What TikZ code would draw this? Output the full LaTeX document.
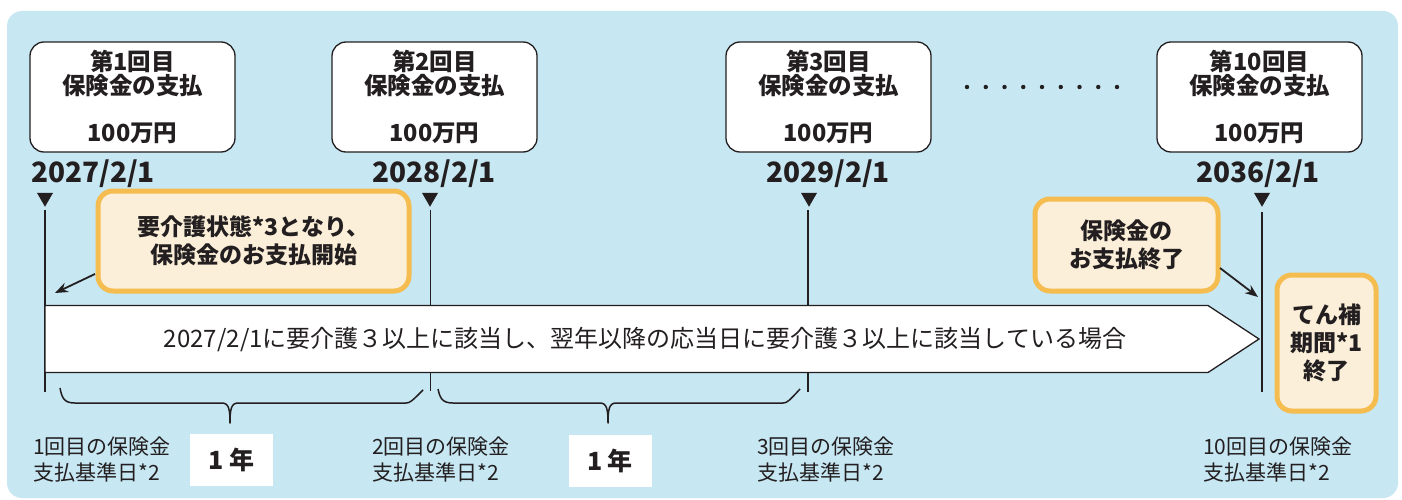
\documentclass[tikz,border=0pt]{standalone}
\usepackage{fontspec}
\setmainfont{Noto Sans CJK JP}
\usetikzlibrary{shapes.geometric,arrows.meta}
\definecolor{bgblue}{RGB}{199,231,243}
\definecolor{orbd}{RGB}{245,188,80}
\definecolor{orfill}{RGB}{251,239,217}
\definecolor{ink}{RGB}{35,31,32}
\begin{document}
\begin{tikzpicture}[x=1pt,y=-1pt,
  topbox/.style={draw=ink, line width=1.3pt, fill=white, rounded corners=14pt,
    minimum width=205pt, minimum height=110pt, inner sep=0pt, align=center,
    text=ink, font=\fontsize{23.5}{23.5}\selectfont\bfseries},
  datelabel/.style={text=ink, inner sep=0pt, font=\fontsize{28}{30}\selectfont\bfseries},
  marker/.style={regular polygon, regular polygon sides=3, shape border rotate=180,
    fill=ink, inner sep=0pt, minimum size=18.5pt},
  vline/.style={draw=ink, line width=1.5pt},
  notebox/.style={draw=orbd, line width=5pt, fill=orfill, rounded corners=15pt,
    inner sep=0pt, align=center, text=ink, font=\fontsize{23}{28}\selectfont\bfseries},
  ptr/.style={draw=ink, line width=1.8pt, -{Stealth[length=13pt,width=10pt]}},
  brace/.style={draw=ink, line width=1.5pt, line join=round},
  yearbox/.style={fill=white, minimum width=83pt, minimum height=52pt, inner sep=0pt,
    text=ink, font=\fontsize{25}{27}\selectfont\bfseries},
  baselabel/.style={anchor=west, align=left, inner sep=0pt, text=ink,
    font=\fontsize{21}{26}\selectfont},
  arrowtext/.style={inner sep=0pt, text=ink, font=\fontsize{24}{26}\selectfont}
]
\path[use as bounding box] (0,0) rectangle (1402,500);
\fill[bgblue, rounded corners=15pt] (7,11) rectangle (1398,498);

% top boxes
\node[topbox] (p1) at (132.5,97) {第1回目\\保険金の支払\\[23.5pt]100万円};
\node[topbox] (p2) at (434.5,97) {第2回目\\保険金の支払\\[23.5pt]100万円};
\node[topbox] (p3) at (828.5,97) {第3回目\\保険金の支払\\[23.5pt]100万円};
\node[topbox] (p4) at (1259.5,97) {第10回目\\保険金の支払\\[23.5pt]100万円};

% dots
\foreach \i in {0,...,8} {\fill[ink] (967+18.75*\i,87) circle (2.2pt);}

% dates
\node[datelabel] (d1) at (93,174) {2027/2/1};
\node[datelabel] (d2) at (434,174) {2028/2/1};
\node[datelabel] (d3) at (828,174) {2029/2/1};
\node[datelabel] (d4) at (1258,174) {2036/2/1};

% markers
\node[marker] (m1) at (45,197.5) {};
\node[marker] (m2) at (430,197.5) {};
\node[marker] (m3) at (809,197.5) {};
\node[marker] (m4) at (1262,197.5) {};

% vertical lines
\coordinate (l1a) at (45,210);  \coordinate (l1b) at (45,392);
\coordinate (l2a) at (430.5,210); \coordinate (l2b) at (430.5,391);
\coordinate (l3a) at (808,210); \coordinate (l3b) at (808,392);
\coordinate (l4a) at (1262,212); \coordinate (l4b) at (1262,392);
\draw[vline] (l1a) -- (l1b);
\draw[vline] (l2a) -- (l2b);
\draw[vline] (l3a) -- (l3b);
\draw[vline] (l4a) -- (l4b);

% main arrow
\draw[draw=ink, line width=1.3pt, fill=white, line join=miter]
  (45,305.5) -- (1208,305.5) -- (1259,339) -- (1208,372.5) -- (45,372.5) -- cycle;
\node[arrowtext] (mt) at (645,340) {2027/2/1に要介護３以上に該当し、翌年以降の応当日に要介護３以上に該当している場合};

% note boxes
\node[notebox, minimum width=311pt, minimum height=100pt] (o1) at (253.5,241)
  {要介護状態*3となり、\\保険金のお支払開始};
\node[notebox, minimum width=183pt, minimum height=92pt] (o2) at (1126.5,245)
  {保険金の\\お支払終了};
\node[notebox, minimum width=99pt, minimum height=136pt] (o3) at (1326.5,343)
  {てん補\\期間*1\\終了};

% pointers
\coordinate (a1s) at (95,274); \coordinate (a1e) at (55,293);
\coordinate (a2s) at (1220,268); \coordinate (a2e) at (1258,297);
\draw[ptr] (a1s) -- (a1e);
\draw[ptr] (a2s) -- (a2e);

% braces
\draw[brace] (60,388) .. controls (62,398) and (64,403) .. (75,403) -- (222,403)
  .. controls (229,403) and (230,410) .. (230,423)
  .. controls (230,410) and (231,403) .. (238,403) -- (406,403)
  .. controls (410,403) and (412,401) .. (423,390);
\draw[brace] (438,389) .. controls (440,398) and (442,403) .. (453,403) -- (600,403)
  .. controls (607,403) and (608,410) .. (608,423)
  .. controls (608,410) and (609,403) .. (616,403) -- (783,403)
  .. controls (787,403) and (789,401) .. (800,389);

% year boxes
\node[yearbox] (y1) at (231.5,460) {1 年};
\node[yearbox] (y2) at (610,460.5) {1 年};

% base labels
\node[baselabel] (b1) at (33,460) {1回目の保険金\\支払基準日*2};
\node[baselabel] (b2) at (372,460) {2回目の保険金\\支払基準日*2};
\node[baselabel] (b3) at (757,460) {3回目の保険金\\支払基準日*2};
\node[baselabel] (b4) at (1203,460) {10回目の保険金\\支払基準日*2};
\end{tikzpicture}
\end{document}
